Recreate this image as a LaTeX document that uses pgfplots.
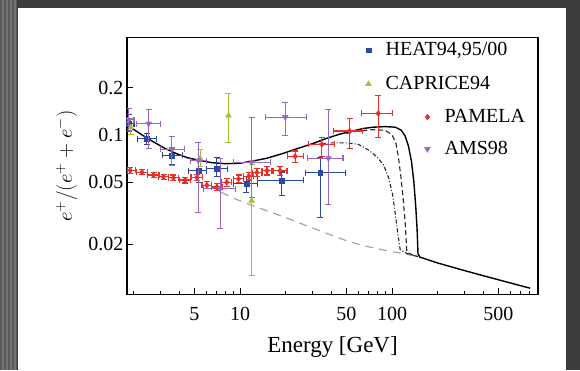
\documentclass[border=0pt]{standalone}
\usepackage{fontspec}
\setmainfont{Liberation Serif}
\usepackage{pgfplots}
\usepackage{pgfplotstable}
\pgfplotsset{compat=1.18}
\definecolor{heat}{HTML}{2A48A8}
\definecolor{capr}{HTML}{9CC430}
\definecolor{pam}{HTML}{E8302A}
\definecolor{ams}{HTML}{9A66C2}
\definecolor{bgdark}{HTML}{3C3C3C}
\definecolor{stripe}{HTML}{585858}

\pgfplotstableread{
x y exm exp eym eyp
1.89 0.0593 0.09 0.16 0.0023 0.0023
2.26 0.0578 0.18 0.19 0.0022 0.0022
2.69 0.0555 0.22 0.23 0.0022 0.0022
3.13 0.0540 0.23 0.25 0.0022 0.0022
3.64 0.0532 0.26 0.31 0.0022 0.0022
4.34 0.0515 0.36 0.36 0.0022 0.0022
5.19 0.0535 0.44 0.46 0.0025 0.0025
6.04 0.0478 0.44 0.46 0.0025 0.0025
7.03 0.0465 0.53 0.57 0.0025 0.0025
8.17 0.0499 0.62 0.63 0.0028 0.0028
9.75 0.0524 0.75 0.75 0.0030 0.0030
11.4 0.0545 0.9 0.9 0.0030 0.0030
12.9 0.0575 0.9 1.0 0.0032 0.0032
15.0 0.0590 1.1 1.2 0.0035 0.0035
18.3 0.0590 1.8 2.0 0.0040 0.0040
23.0 0.0730 2.5 3.0 0.0060 0.0060
34.5 0.0870 6.5 7.5 0.0146 0.0094
52.5 0.106 11.5 11.5 0.024 0.021
81 0.137 18 20 0.0404 0.041
}\pamela

\pgfplotstableread{
x y exm exp eym eyp
1.85 0.118 0.05 0.15 0.013 0.017
2.43 0.0944 0.33 0.37 0.0074 0.0076
3.55 0.0739 0.45 0.65 0.0089 0.0091
5.32 0.059 0.72 0.68 0.009 0.011
7.03 0.0607 1.03 1.17 0.0067 0.0113
11.0 0.0487 2.0 2.0 0.0057 0.0053
18.8 0.0512 5.8 7.2 0.0102 0.0068
33.6 0.0575 6.8 15.4 0.0278 0.0145
}\heat

\pgfplotstableread{
x y eym eyp
1.9 0.112 0.012 0.015
5.45 0.0707 0.008 0.010
8.37 0.133 0.043 0.050
11.9 0.038 0.0253 0.027
}\caprice

\pgfplotstableread{
x y exm exp eym eyp
1.85 0.125 0.05 0.15 0.018 0.022
2.5 0.118 0.42 0.5 0.036 0.027
3.55 0.081 0.55 0.75 0.017 0.017
5.3 0.0686 0.6 0.7 0.0366 0.0214
7.38 0.0453 1.68 1.92 0.02 0.0257
11.9 0.067 2.9 3.9 0.027 0.063
19.8 0.130 5.2 7.7 0.031 0.032
38.1 0.071 10.3 9.4 0.035 0.074
}\ams

\begin{document}
\begin{tikzpicture}
\path[use as bounding box] (0,0) rectangle (580pt,370pt);
\fill[bgdark] (0,0) rectangle (580pt,370pt);
\fill[stripe] (0,0) rectangle (17pt,370pt);
\foreach \xx in {2,6,10,14} {\fill[black!55] (\xx pt,0) rectangle (\xx pt+1.5pt,370pt);}
\fill[white] (18pt,0) rectangle (566pt,362pt);

\begin{axis}[
  scale only axis, width=411pt, height=257pt,
  at={(127pt,75.7pt)}, anchor=south west,
  xmode=log, ymode=log, xmin=1.8, xmax=912, ymin=0.0096, ymax=0.42,
  axis line style={line width=1.4pt},
  tick align=inside, tick pos=left,
  xtick={5,10,50,100,500}, xticklabels={5,10,50,100,500},
  minor xtick={2,3,4,6,7,8,9,20,30,40,60,70,80,90,200,300,400,600,700,800,900},
  ytick={0.02,0.05,0.1,0.2}, yticklabels={0.02,0.05,0.1,0.2},
  major tick length=6pt, minor tick length=3.5pt,
  tick style={line width=1pt, black},
  /pgf/number format/assume math mode=true,
  tick label style={font=\fontsize{20}{24}\selectfont},
  xticklabel style={anchor=center, yshift=-20pt},
  xlabel={Energy [GeV]},
  xlabel style={font=\fontsize{23}{27}\selectfont, at={(axis description cs:0.5,-0.205)}, anchor=center},
  ylabel={$e^+/(e^+ + e^-)$},
  ylabel style={font=\fontsize{20}{24}\selectfont, at={(axis description cs:-0.147,0.5)}, anchor=center},
  legend cell align=left,
  legend image code/.code={\path (0pt,0pt) (16pt,0pt); \draw[#1] plot coordinates {(8pt,0pt)};},
  legend style={at={(axis description cs:0.567,0.986)}, anchor=north west, draw=none, fill=none,
    inner sep=0pt, row sep=16pt, column sep=9pt, font=\fontsize{20}{24}\selectfont,
    nodes={inner sep=0pt, text height=14pt, text depth=4pt}},
]
\addplot[forget plot, color=black!35, line width=1.2pt, dash pattern=on 8pt off 6pt] coordinates {
(7.5,0.043) (9,0.0395) (12,0.0354) (15.8,0.0322) (20,0.0296) (25,0.0272) (35,0.0240)
(50,0.0211) (65,0.0196) (80,0.0188) (95,0.0181) (113,0.0176) (148,0.0167)};
\addplot[forget plot, black, line width=1.4pt] coordinates {
(1.8,0.116) (2.0,0.108) (2.3,0.099) (2.7,0.090) (3.2,0.082) (3.8,0.076) (4.5,0.0715)
(5.5,0.0685) (6.5,0.0665) (8,0.0655) (10,0.066) (12,0.068) (15,0.071) (19,0.076)
(24,0.082) (30,0.088) (37,0.095) (45,0.101) (55,0.106) (65,0.110) (75,0.112) (90,0.113)
(105,0.112) (115,0.107) (122,0.098) (128,0.085) (134,0.068) (139,0.050) (143,0.035)
(146,0.025) (148,0.0175) (152,0.0166) (200,0.0152) (300,0.0136) (400,0.0126)
(550,0.0116) (700,0.0109) (810,0.0105)};
\addplot[forget plot, black!85, line width=1.1pt, dash pattern=on 5pt off 3pt] coordinates {
(50,0.102) (60,0.106) (75,0.108) (90,0.107) (100,0.100) (106,0.088) (110,0.072)
(114,0.055) (118,0.040) (122,0.027) (125,0.0178) (135,0.0172) (148,0.0167)};
\addplot[forget plot, black!85, line width=1.1pt, dash pattern=on 4pt off 2pt on 1pt off 2pt] coordinates {
(30,0.087) (40,0.089) (50,0.089) (60,0.087) (70,0.080) (80,0.072) (88,0.064) (95,0.053)
(101,0.041) (106,0.029) (110,0.022) (113,0.0185) (125,0.0175) (148,0.0167)};

\addplot[only marks, color=heat, mark=square*, mark size=2.3pt,
  error bars/x dir=both, error bars/x explicit,
  error bars/y dir=both, error bars/y explicit,
  error bars/error bar style={line width=1.1pt},
  error bars/error mark options={mark size=3pt, line width=1.1pt, rotate=90}]
  table[x=x, y=y, x error minus=exm, x error plus=exp, y error minus=eym, y error plus=eyp] {\heat};
\addlegendentry{HEAT94,95/00}
\addplot[only marks, color=capr, mark=triangle*, mark size=3.3pt,
  error bars/y dir=both, error bars/y explicit,
  error bars/error bar style={line width=1.1pt},
  error bars/error mark options={mark size=3pt, line width=1.1pt, rotate=90}]
  table[x=x, y=y, y error minus=eym, y error plus=eyp] {\caprice};
\addlegendentry{CAPRICE94}
\end{axis}

\begin{axis}[
  scale only axis, width=411pt, height=257pt,
  at={(127pt,75.7pt)}, anchor=south west,
  xmode=log, ymode=log, xmin=1.8, xmax=912, ymin=0.0096, ymax=0.42,
  hide axis,
  legend cell align=left,
  legend image code/.code={\path (0pt,0pt) (16pt,0pt); \draw[#1] plot coordinates {(8pt,0pt)};},
  legend style={at={(axis description cs:0.7105,0.7253)}, anchor=north west, draw=none, fill=none,
    inner sep=0pt, row sep=14pt, column sep=9pt, font=\fontsize{20}{24}\selectfont,
    nodes={inner sep=0pt, text height=14pt, text depth=4pt}},
]
\addplot[only marks, color=pam, mark=diamond*, mark size=3pt,
  error bars/x dir=both, error bars/x explicit,
  error bars/y dir=both, error bars/y explicit,
  error bars/error bar style={line width=1.2pt},
  error bars/error mark options={mark size=3pt, line width=1.2pt, rotate=90}]
  table[x=x, y=y, x error minus=exm, x error plus=exp, y error minus=eym, y error plus=eyp] {\pamela};
\addlegendentry{PAMELA}
\addplot[only marks, color=ams, mark=triangle*, mark size=3.3pt, mark options={rotate=180},
  error bars/x dir=both, error bars/x explicit,
  error bars/y dir=both, error bars/y explicit,
  error bars/error bar style={line width=1.1pt},
  error bars/error mark options={mark size=3pt, line width=1.1pt, rotate=90}]
  table[x=x, y=y, x error minus=exm, x error plus=exp, y error minus=eym, y error plus=eyp] {\ams};
\addlegendentry{AMS98}
\end{axis}
\end{tikzpicture}
\end{document}
